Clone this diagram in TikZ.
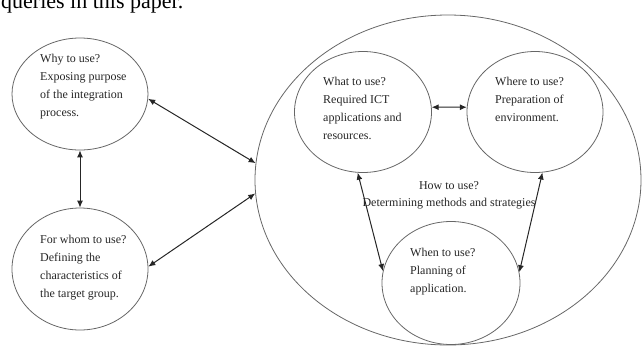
\documentclass[tikz,border=0pt]{standalone}
\usepackage{fontspec}
\setmainfont{Liberation Serif}
\usetikzlibrary{shapes.geometric,arrows.meta}
\tikzset{
  bubble/.style={draw=black!60, line width=0.8pt, ellipse, inner sep=0pt},
  blurb/.style={anchor=north west, align=left, inner sep=0pt, text=black!85,
    font=\fontsize{12}{18}\selectfont},
  link/.style={{Latex[length=7pt,width=6pt]}-{Latex[length=7pt,width=6pt]},
    line width=1pt, draw=black!85}
}

\begin{document}
\begin{tikzpicture}[x=1pt,y=-1pt]
	\useasboundingbox (0,0) rectangle (643,349);
	
	% cut off line of the page above
	\node[anchor=base west, inner sep=0pt, font=\fontsize{22}{22}\selectfont] (caption) at (1,8) {queries in this paper.};
	
	% left pair
	\node[bubble, minimum width=136pt, minimum height=112pt] (why) at (80,94) {};
	\node[blurb] (whytext) at (40,54) {Why to use?\\Exposing purpose\\of the integration\\process.};
	\node[bubble, minimum width=136pt, minimum height=122pt] (whom) at (80,269) {};
	\node[blurb] (whomtext) at (40,235) {For whom to use?\\Defining the\\characteristics of\\the target group.};
	
	% big one on the right
	\node[bubble, minimum width=386pt, minimum height=330pt] (how) at (448,180) {};
	\node[blurb, anchor=north, align=center, font=\fontsize{12}{17}\selectfont] (howtext) at (449,181) {How to use?\\Determining methods and strategies};
	
	\node[bubble, minimum width=137pt, minimum height=121pt] (what) at (363,112) {};
	\node[blurb] (whattext) at (323,77) {What to use?\\Required ICT\\applications and\\resources.};
	\node[bubble, minimum width=136pt, minimum height=121pt] (where) at (535,112) {};
	\node[blurb] (wheretext) at (495,77) {Where to use?\\Preparation of\\environment.};
	\node[bubble, minimum width=138pt, minimum height=123pt] (when) at (451,283) {};
	\node[blurb] (whentext) at (410,248) {When to use?\\Planning of\\application.};
	
	% arrows
	\draw[link] (why.south) -- (whom.north);
	\draw[link] (why.-4) -- (how.175);
	\draw[link] (whom.2) -- (how.-176);
	\draw[link] (what.4) -- (where.176);
	\draw[link] (what.-95) -- (when.170);
	\draw[link] (where.-83) -- (when.9);
\end{tikzpicture}
\end{document}
